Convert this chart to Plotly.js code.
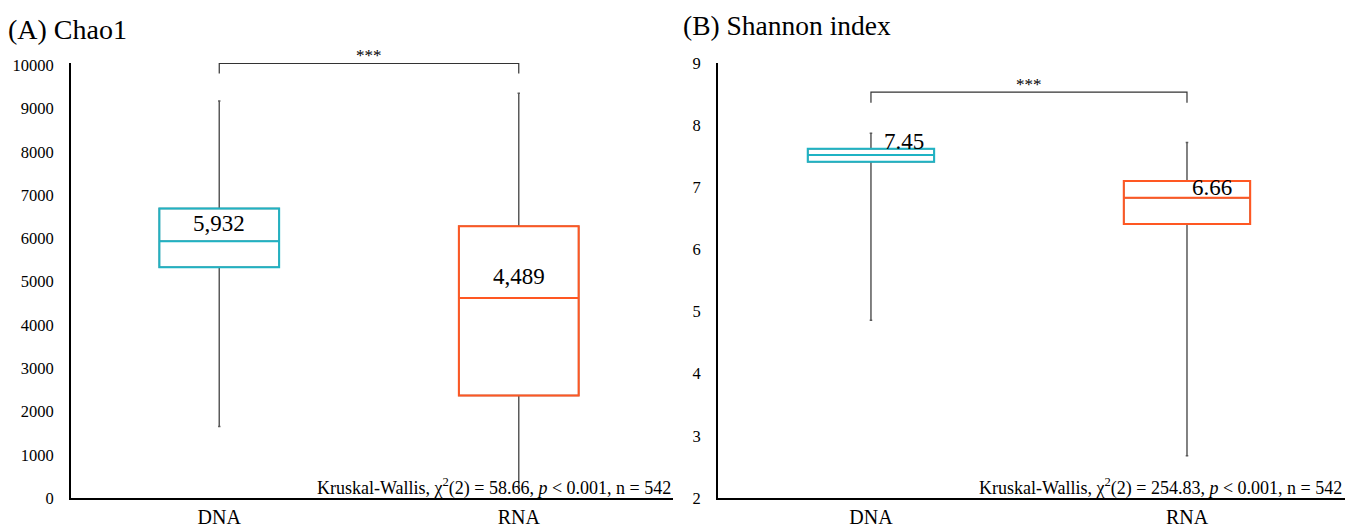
<!DOCTYPE html>
<html>
<head>
<meta charset="utf-8">
<script src="https://cdn.plot.ly/plotly-3.0.1.min.js"></script>
<style>
  html, body { margin: 0; padding: 0; background: #ffffff; }
  #chart { width: 1345px; height: 527px; }
</style>
</head>
<body>
<div id="chart"></div>
<script>
// Sample groups
const categories = ['DNA', 'RNA'];
const groupColors = ['#1fb3c4', '#ff5722'];
const whiskerColor = '#5a5a5a';

// (A) Chao1 box statistics
const chaoLower  = [1650, 280];
const chaoQ1     = [5330, 2370];
const chaoMedian = [5930, 4620];
const chaoQ3     = [6690, 6280];
const chaoUpper  = [9170, 9350];
const chaoMean   = [5932, 4489];

// (B) Shannon index box statistics
const shanLower  = [4.86, 2.68];
const shanQ1     = [7.41, 6.41];
const shanMedian = [7.52, 6.83];
const shanQ3     = [7.62, 7.10];
const shanUpper  = [7.87, 7.72];
const shanMean   = [7.45, 6.66];

// Kruskal-Wallis results
const kwChi = ['58.66', '254.83'];
const kwN = 542;

const serif = '"Liberation Serif", "Times New Roman", Times, serif';

function boxTraces(lower, q1, med, q3, upper, mean, xa, ya) {
  const out = [];
  categories.forEach((cat, i) => {
    // grey whiskers (box body is covered by the coloured box drawn next)
    out.push({
      type: 'box', x: [cat], q1: [q1[i]], median: [med[i]], q3: [q3[i]],
      lowerfence: [lower[i]], upperfence: [upper[i]], mean: [mean[i]],
      boxmean: false, boxpoints: false, width: 0.4, whiskerwidth: 0.02,
      line: { color: whiskerColor, width: 1.5 }, fillcolor: '#ffffff',
      xaxis: xa, yaxis: ya, showlegend: false, hoverinfo: 'skip'
    });
    // coloured box with median line
    out.push({
      type: 'box', x: [cat], q1: [q1[i]], median: [med[i]], q3: [q3[i]],
      lowerfence: [q1[i]], upperfence: [q3[i]], mean: [mean[i]],
      boxmean: false, boxpoints: false, width: 0.4, whiskerwidth: 0,
      line: { color: groupColors[i], width: 2 }, fillcolor: 'rgba(0,0,0,0)',
      xaxis: xa, yaxis: ya, showlegend: false, name: cat
    });
  });
  return out;
}

// significance bracket between the two groups
function bracket(xa, ya, top, drop) {
  return {
    type: 'scatter', mode: 'lines',
    x: [categories[0], categories[0], categories[1], categories[1]],
    y: [top - drop, top, top, top - drop],
    line: { color: '#333333', width: 1.2 },
    xaxis: xa, yaxis: ya, showlegend: false, hoverinfo: 'skip'
  };
}

const data = [].concat(
  boxTraces(chaoLower, chaoQ1, chaoMedian, chaoQ3, chaoUpper, chaoMean, 'x', 'y'),
  boxTraces(shanLower, shanQ1, shanMedian, shanQ3, shanUpper, shanMean, 'x2', 'y2'),
  [bracket('x', 'y', 10040, 230), bracket('x2', 'y2', 8.53, 0.17)]
);

const axisLine = { showline: true, linecolor: '#000000', linewidth: 2, showgrid: false,
  zeroline: false, ticks: '', fixedrange: true, automargin: false };

const xCommon = Object.assign({}, axisLine, {
  type: 'category', categoryorder: 'array', categoryarray: categories,
  tickfont: { family: serif, size: 20, color: '#000000' }, ticklabelstandoff: 0
});
const yCommon = Object.assign({}, axisLine, {
  tickfont: { family: serif, size: 16.5, color: '#000000' }, exponentformat: 'none',
  ticklabelstandoff: 12
});

const fmtThousands = v => v.toLocaleString('en-US');

const annotations = [
  { text: '(A) Chao1', xref: 'paper', yref: 'paper', x: 6 / 1345, y: 1 - 30 / 527,
    xanchor: 'left', yanchor: 'middle', showarrow: false,
    font: { family: serif, size: 28, color: '#000000' } },
  { text: '(B) Shannon index', xref: 'paper', yref: 'paper', x: 681 / 1345, y: 1 - 25 / 527,
    xanchor: 'left', yanchor: 'middle', showarrow: false,
    font: { family: serif, size: 27.5, color: '#000000' } },
  { text: '***', xref: 'x', yref: 'y', x: 0.5, y: 10040, yanchor: 'bottom', yshift: -4, showarrow: false,
    font: { family: serif, size: 17, color: '#000000' } },
  { text: '***', xref: 'x2', yref: 'y2', x: 0.5, y: 8.53, yanchor: 'bottom', yshift: -4, showarrow: false,
    font: { family: serif, size: 17, color: '#000000' } },
  // mean labels
  { text: fmtThousands(chaoMean[0]), xref: 'x', yref: 'y', x: categories[0], y: 6340,
    showarrow: false, font: { family: serif, size: 23, color: '#000000' } },
  { text: fmtThousands(chaoMean[1]), xref: 'x', yref: 'y', x: categories[1], y: 5110,
    showarrow: false, font: { family: serif, size: 23, color: '#000000' } },
  { text: shanMean[0].toFixed(2), xref: 'x2', yref: 'y2', x: categories[0], y: 7.74, xshift: 33,
    showarrow: false, font: { family: serif, size: 23, color: '#000000' } },
  { text: shanMean[1].toFixed(2), xref: 'x2', yref: 'y2', x: categories[1], y: 7.0, xshift: 25,
    showarrow: false, font: { family: serif, size: 23, color: '#000000' } },
  // test statistics
  { text: 'Kruskal-Wallis, χ<sup>2</sup>(2) = ' + kwChi[0] + ', <i>p</i> &lt; 0.001, n = ' + kwN,
    xref: 'paper', yref: 'paper', x: 673 / 1345, y: 1 - 487 / 527, xanchor: 'right', yanchor: 'middle',
    showarrow: false, font: { family: serif, size: 18, color: '#000000' } },
  { text: 'Kruskal-Wallis, χ<sup>2</sup>(2) = ' + kwChi[1] + ', <i>p</i> &lt; 0.001, n = ' + kwN,
    xref: 'paper', yref: 'paper', x: 1344 / 1345, y: 1 - 487 / 527, xanchor: 'right', yanchor: 'middle',
    showarrow: false, font: { family: serif, size: 18, color: '#000000' } }
];

const yTop = 1 - 63 / 527, yBottom = 1 - 498 / 527;

const layout = {
  width: 1345, height: 527,
  margin: { l: 0, r: 0, t: 0, b: 0 },
  paper_bgcolor: '#ffffff', plot_bgcolor: '#ffffff',
  font: { family: serif, color: '#000000' },
  separators: '.',
  boxmode: 'overlay',
  showlegend: false,
  xaxis: Object.assign({}, xCommon, { domain: [71 / 1345, 673 / 1345], range: [-0.495, 1.515], anchor: 'y' }),
  xaxis2: Object.assign({}, xCommon, { domain: [718 / 1345, 1], range: [-0.484, 1.5], anchor: 'y2' }),
  yaxis: Object.assign({}, yCommon, { domain: [yBottom, yTop], range: [0, 10050], tick0: 0, dtick: 1000, anchor: 'x' }),
  yaxis2: Object.assign({}, yCommon, { domain: [yBottom, yTop], range: [2, 9], tick0: 2, dtick: 1, anchor: 'x2' }),
  annotations: annotations
};

Plotly.newPlot('chart', data, layout, { displayModeBar: false, staticPlot: true });
</script>
</body>
</html>
